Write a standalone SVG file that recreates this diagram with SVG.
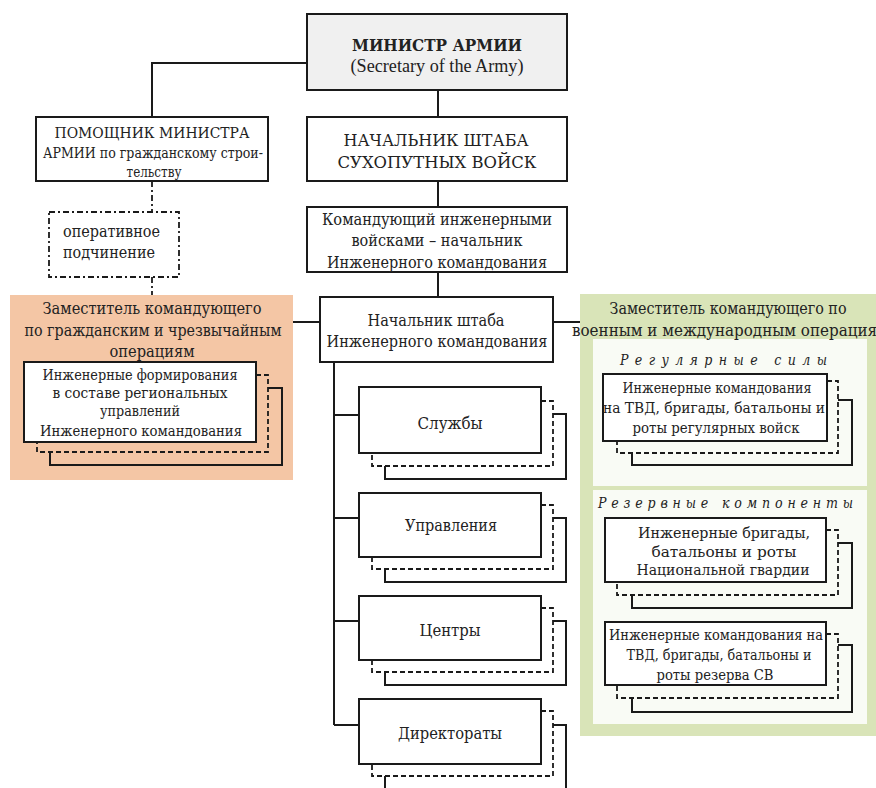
<svg xmlns="http://www.w3.org/2000/svg" width="876" height="788" viewBox="0 0 876 788">
<style>
.box{fill:#fff;stroke:#1a1a1a;stroke-width:2}
.dash{fill:none;stroke:#1a1a1a;stroke-width:1.8;stroke-dasharray:5 3}
.sh{fill:none;stroke:#1a1a1a;stroke-width:2}
.ln{fill:none;stroke:#1a1a1a;stroke-width:2}
.dd{fill:none;stroke:#1a1a1a;stroke-width:1.8;stroke-dasharray:6 3 2 3}
.t{font-family:"DejaVu Serif Condensed","DejaVu Serif","Liberation Serif",serif;fill:#222;text-anchor:middle;font-size:16px}
.s{font-size:14px}
.lat{font-family:"Liberation Serif",serif;font-size:18px}
.it{font-family:"DejaVu Serif Condensed","DejaVu Serif","Liberation Serif",serif;fill:#222;text-anchor:middle;font-size:14px;font-style:italic}
</style>
<rect width="876" height="788" fill="#fff"/>
<g id="panel-left">
<rect x="10" y="295" width="283" height="185" fill="#f4c6a5"/>
<text class="t" x="152" y="314" textLength="219" lengthAdjust="spacingAndGlyphs">Заместитель командующего</text>
<text class="t" x="153" y="336" textLength="257" lengthAdjust="spacingAndGlyphs">по гражданским и чрезвычайным</text>
<text class="t" x="152" y="357" textLength="85" lengthAdjust="spacingAndGlyphs">операциям</text>
</g>
<g id="panel-right">
<rect x="580" y="294" width="296" height="442" fill="#d9e4b8"/>
<rect x="593" y="339" width="274" height="147" fill="#f9fbf5"/>
<rect x="593" y="490" width="274" height="234" fill="#f9fbf5"/>
<text class="t" x="728" y="314" textLength="237" lengthAdjust="spacingAndGlyphs">Заместитель командующего по</text>
<text class="t" x="572" y="336" style="text-anchor:start" textLength="305" lengthAdjust="spacingAndGlyphs">военным и международным операция</text>
<text class="it" x="620" y="365" style="text-anchor:start" textLength="207" lengthAdjust="spacing">Регулярные силы</text>
<text class="it" x="598" y="508" style="text-anchor:start" textLength="255" lengthAdjust="spacing">Резервные компоненты</text>
</g>
<g id="connectors">
<path class="ln" d="M307,63 H152 V117"/>
<path class="ln" d="M438,90 V117 M438,181 V207 M438,272 V297"/>
<path class="ln" d="M320,322 H293 M553,322 H580"/>
<path class="ln" d="M334,362 V725 M334,415 H359 M334,518 H359 M334,621 H359 M334,725 H359"/>
<path class="dd" d="M152,181 V212 M152,277 V295"/>
</g>
<g id="n-minister">
<rect x="307" y="14" width="260" height="76" fill="#f0f0f0" stroke="#1a1a1a" stroke-width="2"/>
<text class="t" x="437" y="51" font-weight="bold" textLength="170" lengthAdjust="spacingAndGlyphs">МИНИСТР АРМИИ</text>
<text class="t lat" x="437" y="72" textLength="173" lengthAdjust="spacingAndGlyphs">(Secretary of the Army)</text>
</g>
<g id="n-assistant">
<rect class="box" x="36" y="117" width="232" height="64"/>
<text class="t s" x="152" y="138" textLength="195" lengthAdjust="spacingAndGlyphs">ПОМОЩНИК МИНИСТРА</text>
<text class="t s" x="153" y="158" textLength="220" lengthAdjust="spacingAndGlyphs">АРМИИ по гражданскому строи-</text>
<text class="t s" x="154" y="177" textLength="55" lengthAdjust="spacingAndGlyphs">тельству</text>
</g>
<g id="n-operative">
<rect class="dd" x="49" y="212" width="130" height="65"/>
<text class="t" x="63" y="237" style="text-anchor:start" textLength="97" lengthAdjust="spacingAndGlyphs">оперативное</text>
<text class="t" x="63" y="258" style="text-anchor:start" textLength="92" lengthAdjust="spacingAndGlyphs">подчинение</text>
</g>
<g id="n-chief-ground">
<rect class="box" x="307" y="117" width="260" height="64"/>
<text class="t" x="436" y="146" textLength="185" lengthAdjust="spacingAndGlyphs">НАЧАЛЬНИК ШТАБА</text>
<text class="t" x="437" y="168" textLength="199" lengthAdjust="spacingAndGlyphs">СУХОПУТНЫХ ВОЙСК</text>
</g>
<g id="n-commander">
<rect class="box" x="307" y="207" width="260" height="65"/>
<text class="t" x="437" y="225" textLength="230" lengthAdjust="spacingAndGlyphs">Командующий инженерными</text>
<text class="t" x="437" y="246" textLength="171" lengthAdjust="spacingAndGlyphs">войсками – начальник</text>
<text class="t" x="437" y="268" textLength="220" lengthAdjust="spacingAndGlyphs">Инженерного командования</text>
</g>
<g id="n-chief-eng">
<rect class="box" x="320" y="297" width="233" height="65"/>
<text class="t" x="436" y="326" textLength="137" lengthAdjust="spacingAndGlyphs">Начальник штаба</text>
<text class="t" x="437" y="347" textLength="221" lengthAdjust="spacingAndGlyphs">Инженерного командования</text>
</g>
<g id="n-regional">
<path class="sh" d="M268,388 H282 V465 H50 V452"/>
<path class="dash" d="M256,375 H268 V452 H37 V442"/>
<rect class="box" x="24" y="362" width="232" height="80"/>
<text class="t s" x="140" y="380" textLength="195" lengthAdjust="spacingAndGlyphs">Инженерные формирования</text>
<text class="t s" x="140" y="398" textLength="175" lengthAdjust="spacingAndGlyphs">в составе региональных</text>
<text class="t s" x="140" y="416" textLength="80" lengthAdjust="spacingAndGlyphs">управлений</text>
<text class="t s" x="141" y="436" textLength="202" lengthAdjust="spacingAndGlyphs">Инженерного командования</text>
</g>
<g id="n-services">
<path class="sh" d="M553,414 H566 V479 H385 V466"/>
<path class="dash" d="M541,401 H553 V466 H372 V453"/>
<rect class="box" x="359" y="387" width="182" height="66"/>
<text class="t" x="450" y="429" textLength="65" lengthAdjust="spacingAndGlyphs">Службы</text>
</g>
<g id="n-directorates">
<path class="sh" d="M553,518 H566 V582 H385 V569"/>
<path class="dash" d="M541,505 H553 V569 H372 V557"/>
<rect class="box" x="359" y="493" width="182" height="64"/>
<text class="t" x="451" y="531" textLength="92" lengthAdjust="spacingAndGlyphs">Управления</text>
</g>
<g id="n-centers">
<path class="sh" d="M553,621 H566 V685 H385 V672"/>
<path class="dash" d="M541,608 H553 V672 H372 V660"/>
<rect class="box" x="359" y="596" width="182" height="64"/>
<text class="t" x="450" y="636" textLength="61" lengthAdjust="spacingAndGlyphs">Центры</text>
</g>
<g id="n-direct">
<path class="sh" d="M553,725 H566 V792 H385 V776"/>
<path class="dash" d="M541,711 H553 V776 H372 V764"/>
<rect class="box" x="359" y="699" width="182" height="65"/>
<text class="t" x="450" y="739" textLength="104" lengthAdjust="spacingAndGlyphs">Директораты</text>
</g>
<g id="n-regular">
<path class="sh" d="M838,400 H852 V465 H632 V453"/>
<path class="dash" d="M827,381 H838 V453 H617 V441"/>
<rect class="box" x="603" y="374" width="224" height="67"/>
<text class="t s" x="717" y="393" textLength="189" lengthAdjust="spacingAndGlyphs">Инженерные командования</text>
<text class="t s" x="714" y="413" textLength="222" lengthAdjust="spacingAndGlyphs">на ТВД, бригады, батальоны и</text>
<text class="t s" x="716" y="433" textLength="167" lengthAdjust="spacingAndGlyphs">роты регулярных войск</text>
</g>
<g id="n-guard">
<path class="sh" d="M838,543 H852 V608 H632 V595"/>
<path class="dash" d="M826,530 H838 V595 H617 V582"/>
<rect class="box" x="605" y="518" width="221" height="64"/>
<text class="t s" x="724" y="538" textLength="172" lengthAdjust="spacingAndGlyphs">Инженерные бригады,</text>
<text class="t s" x="724" y="557" textLength="145" lengthAdjust="spacingAndGlyphs">батальоны и роты</text>
<text class="t s" x="723" y="575" textLength="173" lengthAdjust="spacingAndGlyphs">Национальной гвардии</text>
</g>
<g id="n-reserve">
<path class="sh" d="M838,645 H852 V712 H632 V698"/>
<path class="dash" d="M826,634 H838 V698 H617 V685"/>
<rect class="box" x="605" y="622" width="221" height="63"/>
<text class="t s" x="716" y="640" textLength="214" lengthAdjust="spacingAndGlyphs">Инженерные командования на</text>
<text class="t s" x="719" y="660" textLength="185" lengthAdjust="spacingAndGlyphs">ТВД, бригады, батальоны и</text>
<text class="t s" x="715" y="680" textLength="117" lengthAdjust="spacingAndGlyphs">роты резерва СВ</text>
</g>
</svg>
